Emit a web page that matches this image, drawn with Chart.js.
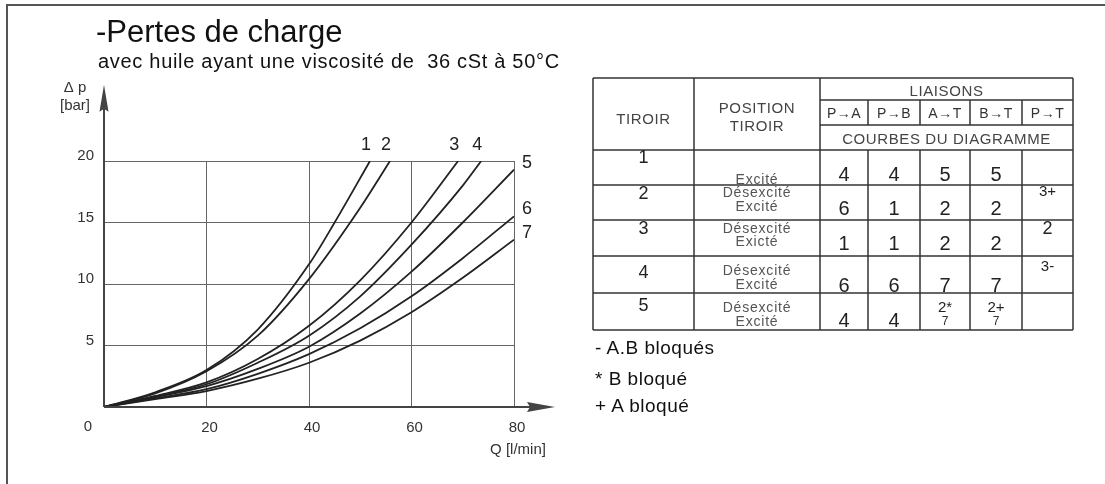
<!DOCTYPE html>
<html>
<head>
<meta charset="utf-8">
<script src="https://cdn.jsdelivr.net/npm/chart.js@4/dist/chart.umd.min.js"></script>
<style>
    body { margin: 0; background: #fff; width: 1105px; height: 484px; overflow: hidden; position: relative;
           font-family: "Liberation Sans", Arial, sans-serif; color: #222; }
    #frame { position: absolute; left: 6px; top: 4px; width: 1200px; height: 600px;
             border-left: 2px solid #555; border-top: 2px solid #555; }
    #chart { position: absolute; left: 0; top: 0; }
    .t { position: absolute; white-space: nowrap; line-height: 1; transform: translate(-50%, -50%); }
    .l { position: absolute; white-space: nowrap; line-height: 1; transform: translate(0, -50%); }
    #lines { position: absolute; left: 0; top: 0; }
</style>
</head>
<body>
<div id="frame"></div>
<canvas id="chart" width="600" height="484"></canvas>
<div class="l" style="left:96px; top:31px; font-size:31px; color:#111;">-Pertes de charge</div>
<div class="l" style="left:98px; top:61px; font-size:20px; letter-spacing:0.7px; color:#111;">avec huile ayant une viscosité de&nbsp; 36 cSt à 50°C</div>
<svg id="lines" width="1105" height="484"></svg>
<div id="table"></div>

<script>
// Courbes de perte de charge : [Q l/min, Δp bar]
const courbe1 = [[0, 0], [10, 1.2], [20, 3.0], [30, 6.3], [40, 11.6], [45, 15], [51.9, 20]];
const courbe2 = [[0, 0], [10, 1.1], [20, 2.9], [30, 5.8], [40, 10.4], [50, 16.2], [55.8, 20]];
const courbe3 = [[0, 0], [10, 0.9], [20, 2.0], [30, 3.9], [40, 6.6], [50, 10.3], [60, 15], [69.1, 20]];
const courbe4 = [[0, 0], [10, 0.85], [20, 1.85], [30, 3.6], [40, 5.8], [50, 9.0], [60, 13.2], [70, 18.0], [73.6, 20]];
const courbe5 = [[0, 0], [10, 0.8], [20, 1.7], [30, 3.1], [40, 4.9], [50, 7.6], [60, 11.0], [70, 15.0], [80, 19.3]];
const courbe6 = [[0, 0], [10, 0.7], [20, 1.45], [30, 2.7], [40, 4.3], [50, 6.4], [60, 9.0], [70, 12.1], [80, 15.5]];
const courbe7 = [[0, 0], [10, 0.65], [20, 1.3], [30, 2.3], [40, 3.6], [50, 5.4], [60, 7.7], [70, 10.5], [80, 13.6]];

const courbes = [courbe1, courbe2, courbe3, courbe4, courbe5, courbe6, courbe7];
const nomsCourbes = ['1', '2', '3', '4', '5', '6', '7'];

const qTicks = [0, 20, 40, 60, 80];
const dpTicks = [0, 5, 10, 15, 20];
const qMax = 80, dpMax = 20;
const qArrow = 88, dpArrow = 26.2;

// Tableau
const tiroirs = ['1', '2', '3', '4', '5'];
const positionsTiroir = [['', 'Excité'], ['Désexcité', 'Excité'], ['Désexcité', 'Exicté'], ['Désexcité', 'Excité'], ['Désexcité', 'Excité']];
const liaisons = ['P→A', 'P→B', 'A→T', 'B→T', 'P→T'];
const courbesPA = ['4', '6', '1', '6', '4'];
const courbesPB = ['4', '1', '1', '6', '4'];
const courbesAT = ['5', '2', '2', '7', '2*|7'];
const courbesBT = ['5', '2', '2', '7', '2+|7'];
const courbesPT = ['', '3+', '2', '3-', ''];
const notes = ['- A.B bloqués', '* B bloqué', '+ A bloqué'];

const FONT = '"Liberation Sans", Arial, sans-serif';

const decorPlugin = {
    id: 'decor',
    afterDraw(chart) {
        const { ctx, scales: { x, y } } = chart;
        const x0 = x.getPixelForValue(0), y0 = y.getPixelForValue(0);
        const xTip = x.getPixelForValue(qArrow), yTip = y.getPixelForValue(dpArrow);
        ctx.save();
        ctx.strokeStyle = '#444';
        ctx.fillStyle = '#444';
        ctx.lineWidth = 2;
        ctx.beginPath();
        ctx.moveTo(x0, y0); ctx.lineTo(xTip - 20, y0);
        ctx.moveTo(x0, y0); ctx.lineTo(x0, yTip + 20);
        ctx.stroke();
        // pointes de fleche
        ctx.beginPath();
        ctx.moveTo(xTip, y0); ctx.lineTo(xTip - 28, y0 - 5); ctx.lineTo(xTip - 25, y0); ctx.lineTo(xTip - 28, y0 + 5);
        ctx.closePath(); ctx.fill();
        ctx.beginPath();
        ctx.moveTo(x0, yTip); ctx.lineTo(x0 - 4.5, yTip + 27); ctx.lineTo(x0, yTip + 24); ctx.lineTo(x0 + 4.5, yTip + 27);
        ctx.closePath(); ctx.fill();

        ctx.fillStyle = '#222';
        ctx.textAlign = 'center';
        ctx.textBaseline = 'middle';
        ctx.font = '18px ' + FONT;
        courbes.forEach((c, i) => {
            const last = c[c.length - 1];
            const px = x.getPixelForValue(last[0]), py = y.getPixelForValue(last[1]);
            if (last[1] >= dpMax - 0.01) {
                ctx.fillText(nomsCourbes[i], px - 4, py - 16);
            } else {
                ctx.fillText(nomsCourbes[i], px + 13, py - 7);
            }
        });

        ctx.fillStyle = '#333';
        ctx.font = '15px ' + FONT;
        ctx.fillText('0', x0 - 16, y0 + 20);
        ctx.fillText('Δ p', x0 - 29, yTip + 3);
        ctx.fillText('[bar]', x0 - 29, yTip + 21);
        ctx.fillText('Q [l/min]', x.getPixelForValue(qMax) + 4, y0 + 43);
        ctx.restore();
    }
};

new Chart(document.getElementById('chart'), {
    type: 'scatter',
    data: {
        datasets: courbes.map((c, i) => ({
            label: nomsCourbes[i],
            data: c.map(p => ({ x: p[0], y: p[1] })),
            showLine: true,
            borderColor: '#222',
            borderWidth: 1.8,
            pointRadius: 0,
            cubicInterpolationMode: 'monotone',
            fill: false
        }))
    },
    options: {
        responsive: false,
        animation: false,
        layout: { padding: { left: 64, top: 161, right: 86, bottom: 47 } },
        scales: {
            x: {
                type: 'linear', min: 0, max: qMax,
                afterFit(scale) { scale.height = 30; },
                afterBuildTicks(scale) { scale.ticks = qTicks.map(v => ({ value: v })); },
                grid: { color: '#666', lineWidth: 1, drawTicks: false },
                border: { display: false },
                ticks: {
                    padding: 12, labelOffset: 3, color: '#333', font: { family: FONT, size: 15 },
                    callback: v => v === 0 ? '' : v
                }
            },
            y: {
                type: 'linear', min: 0, max: dpMax,
                afterFit(scale) { scale.width = 40; },
                afterBuildTicks(scale) { scale.ticks = dpTicks.map(v => ({ value: v })); },
                grid: { color: '#666', lineWidth: 1, drawTicks: false },
                border: { display: false },
                ticks: {
                    padding: 10, labelOffset: -5, color: '#333', font: { family: FONT, size: 15 },
                    callback: v => v === 0 ? '' : v
                }
            }
        },
        plugins: { legend: { display: false }, tooltip: { enabled: false } }
    },
    plugins: [decorPlugin]
});

// ---- tableau ----
const colEdges = [593, 694, 820, 868, 920, 970, 1022, 1073];
const headEdges = [78, 100, 125, 150];
const rowEdges = [150, 185, 220, 256, 293, 330];
const svg = document.getElementById('lines');
function line(x1, y1, x2, y2) {
    const l = document.createElementNS('http://www.w3.org/2000/svg', 'line');
    l.setAttribute('x1', x1); l.setAttribute('y1', y1); l.setAttribute('x2', x2); l.setAttribute('y2', y2);
    l.setAttribute('stroke', '#333'); l.setAttribute('stroke-width', 1.5);
    svg.appendChild(l);
}
const L = colEdges[0], R = colEdges[7], T = headEdges[0], B = rowEdges[5];
line(L, T, R, T); line(L, B, R, B); line(L, T, L, B); line(R, T, R, B);
line(colEdges[1], T, colEdges[1], B);
line(colEdges[2], T, colEdges[2], B);
line(colEdges[2], headEdges[1], R, headEdges[1]);
line(colEdges[2], headEdges[2], R, headEdges[2]);
for (let i = 3; i < 7; i++) {
    line(colEdges[i], headEdges[1], colEdges[i], headEdges[2]);
    line(colEdges[i], rowEdges[0], colEdges[i], B);
}
for (let i = 0; i < 5; i++) line(L, rowEdges[i], R, rowEdges[i]);

const tbl = document.getElementById('table');
function txt(s, cx, cy, size, color, cls, extra) {
    const d = document.createElement('div');
    d.className = cls || 't';
    d.textContent = s;
    d.style.left = cx + 'px';
    d.style.top = cy + 'px';
    d.style.fontSize = size + 'px';
    d.style.color = color || '#222';
    if (extra) Object.assign(d.style, extra);
    tbl.appendChild(d);
}
const mid = i => (colEdges[i] + colEdges[i + 1]) / 2;
const hs = { letterSpacing: '0.6px' };
txt('TIROIR', mid(0), 118, 15, '#444', 't', hs);
txt('POSITION', mid(1), 107, 15, '#444', 't', hs);
txt('TIROIR', mid(1), 125, 15, '#444', 't', hs);
txt('LIAISONS', (colEdges[2] + R) / 2, 90, 15, '#444', 't', hs);
liaisons.forEach((s, i) => txt(s, mid(i + 2), 113, 14, '#333', 't', { letterSpacing: '0.5px' }));
txt('COURBES DU DIAGRAMME', (colEdges[2] + R) / 2, 138, 15, '#444', 't', hs);

// positions verticales par ligne : numero, ligne 1, ligne 2, valeurs, P→T
const rowY = [
    { num: 157, p1: 163, p2: 179, val: 174, pt: 165 },
    { num: 193, p1: 192, p2: 206, val: 208, pt: 190 },
    { num: 228, p1: 228, p2: 241, val: 243, pt: 228 },
    { num: 272, p1: 270, p2: 284, val: 285, pt: 265 },
    { num: 305, p1: 307, p2: 321, val: 320, pt: 307 }
];
const ps = { letterSpacing: '0.8px' };
tiroirs.forEach((s, r) => {
    const ry = rowY[r];
    txt(s, mid(0), ry.num, 18, '#222');
    if (positionsTiroir[r][0]) txt(positionsTiroir[r][0], mid(1), ry.p1, 14, '#555', 't', ps);
    txt(positionsTiroir[r][1], mid(1), ry.p2, 14, '#555', 't', ps);
    [courbesPA, courbesPB, courbesAT, courbesBT].forEach((col, c) => {
        const v = col[r];
        if (v.indexOf('|') >= 0) {
            const parts = v.split('|');
            txt(parts[0], mid(c + 2), ry.p1 - 1, 15, '#222');
            txt(parts[1], mid(c + 2), ry.p2, 12, '#333');
        } else {
            txt(v, mid(c + 2), ry.val, 20, '#222');
        }
    });
    const pt = courbesPT[r];
    if (pt) txt(pt, mid(6), ry.pt, pt.length > 1 ? 15 : 18, '#222');
});

notes.forEach((s, i) => txt(s, 595, [347, 378, 405][i], 19, '#111', 'l', { letterSpacing: '0.5px' }));
</script>
</body>
</html>
